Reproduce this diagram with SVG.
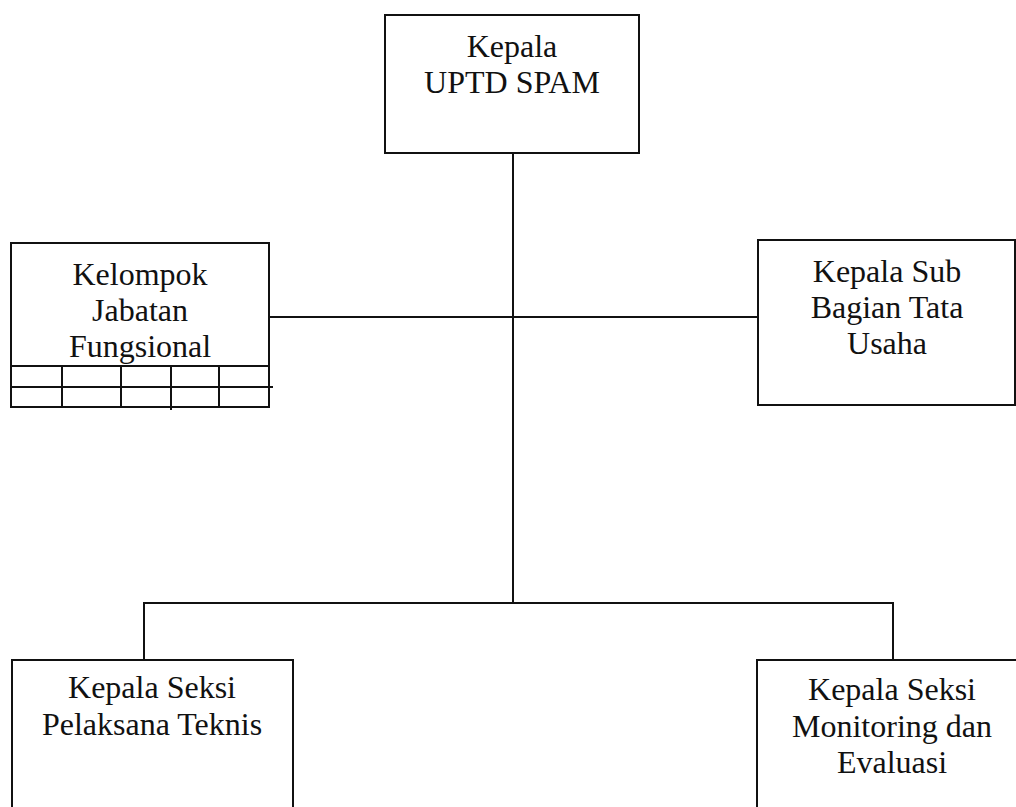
<svg xmlns="http://www.w3.org/2000/svg" width="1016" height="807" viewBox="0 0 1016 807">
<style>
.box{fill:#fff;stroke:#111;stroke-width:2}
.ln{fill:none;stroke:#111;stroke-width:2}
text{font-family:"Liberation Serif","Times New Roman",serif;font-size:32px;fill:#111;text-anchor:middle}
</style>
<rect width="1016" height="807" fill="#fff"/>
<g id="connectors">
<line class="ln" x1="513" y1="153" x2="513" y2="603"/>
<line class="ln" x1="269" y1="317" x2="758" y2="317"/>
<polyline class="ln" points="144,660 144,603 893,603 893,660"/>
</g>
<g id="kepala-uptd">
<rect class="box" x="385" y="15" width="254" height="138"/>
<text x="512" y="57">Kepala</text>
<text x="512" y="93">UPTD SPAM</text>
</g>
<g id="kelompok-jabatan">
<rect class="box" x="11" y="243" width="258" height="164"/>
<line class="ln" x1="11" y1="366" x2="269" y2="366"/>
<line class="ln" x1="11" y1="387" x2="273" y2="387"/>
<line class="ln" x1="62" y1="366" x2="62" y2="407"/>
<line class="ln" x1="121" y1="366" x2="121" y2="407"/>
<line class="ln" x1="171" y1="366" x2="171" y2="410"/>
<line class="ln" x1="219" y1="366" x2="219" y2="407"/>
<text x="140" y="285">Kelompok</text>
<text x="140" y="321">Jabatan</text>
<text x="140" y="357">Fungsional</text>
</g>
<g id="kasubag-tu">
<rect class="box" x="758" y="240" width="257" height="165"/>
<text x="887" y="282">Kepala Sub</text>
<text x="887" y="318">Bagian Tata</text>
<text x="887" y="354">Usaha</text>
</g>
<g id="seksi-teknis">
<rect class="box" x="12" y="660" width="281" height="160"/>
<text x="152" y="698">Kepala Seksi</text>
<text x="152" y="735">Pelaksana Teknis</text>
</g>
<g id="seksi-monev">
<rect class="box" x="757" y="660" width="280" height="160"/>
<text x="892" y="700">Kepala Seksi</text>
<text x="892" y="737">Monitoring dan</text>
<text x="892" y="773">Evaluasi</text>
</g>
</svg>
